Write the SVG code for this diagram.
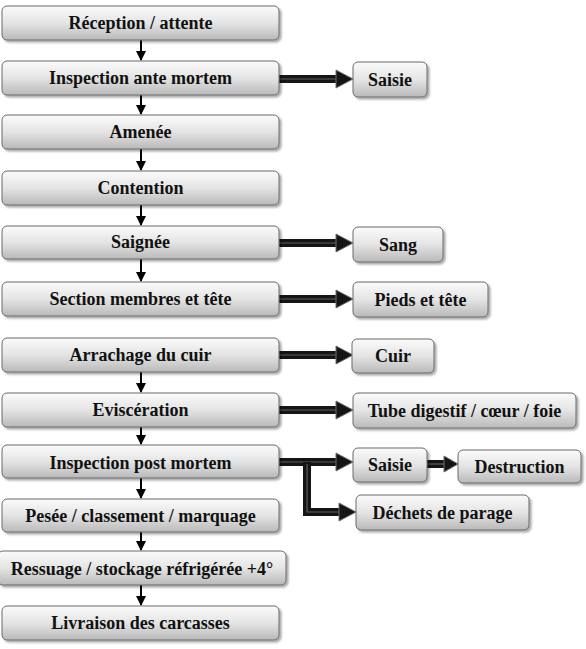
<svg xmlns="http://www.w3.org/2000/svg" width="586" height="649" viewBox="0 0 586 649">
<defs>
<linearGradient id="g" x1="0" y1="0" x2="0" y2="1">
<stop offset="0" stop-color="#fbfbfb"/>
<stop offset="0.5" stop-color="#e4e4e4"/>
<stop offset="1" stop-color="#b9b9b9"/>
</linearGradient>
<filter id="sh" x="-10%" y="-20%" width="120%" height="160%">
<feDropShadow dx="2" dy="2" stdDeviation="1.2" flood-color="#000" flood-opacity="0.35"/>
</filter>
<marker id="ah" markerWidth="10" markerHeight="10" refX="9" refY="5" orient="auto" markerUnits="userSpaceOnUse" viewBox="0 0 10 10">
<path d="M0,0 L10,5 L0,10 Z" fill="#000"/>
</marker>
</defs>
<style>
.b rect{fill:url(#g);stroke:#6a6a6a;stroke-width:1;filter:url(#sh)}
.b text{font-weight:bold;font-size:18px;fill:#111;text-anchor:middle}
.d{stroke:#000;stroke-width:2;fill:none}
.s{stroke:#151515;stroke-width:8;fill:none}
.si{stroke:#5e5e5e;stroke-width:1.2;fill:none}
.h{fill:#151515;stroke:#6e6e6e;stroke-width:1}
</style>
<g id="connectors">
<line class="d" x1="141" y1="40" x2="141" y2="60" marker-end="url(#ah)"/>
<line class="d" x1="141" y1="95" x2="141" y2="114" marker-end="url(#ah)"/>
<line class="d" x1="141" y1="149" x2="141" y2="170" marker-end="url(#ah)"/>
<line class="d" x1="141" y1="205" x2="141" y2="225" marker-end="url(#ah)"/>
<line class="d" x1="141" y1="259" x2="141" y2="281" marker-end="url(#ah)"/>
<line class="d" x1="141" y1="372" x2="141" y2="392" marker-end="url(#ah)"/>
<line class="d" x1="141" y1="427" x2="141" y2="444" marker-end="url(#ah)"/>
<line class="d" x1="141" y1="478" x2="141" y2="498" marker-end="url(#ah)"/>
<line class="d" x1="141" y1="532" x2="141" y2="550" marker-end="url(#ah)"/>
<line class="d" x1="141" y1="585" x2="141" y2="605" marker-end="url(#ah)"/>

<path class="s" d="M279,79 H338"/><path class="si" d="M279,79 H338"/><polygon class="h" points="336,70 353,79 336,88"/>
<path class="s" d="M279,243 H338"/><path class="si" d="M279,243 H338"/><polygon class="h" points="336,234 353,243 336,252"/>
<path class="s" d="M279,299 H338"/><path class="si" d="M279,299 H338"/><polygon class="h" points="336,290 353,299 336,308"/>
<path class="s" d="M279,355 H338"/><path class="si" d="M279,355 H338"/><polygon class="h" points="336,346 353,355 336,364"/>
<path class="s" d="M279,410 H338"/><path class="si" d="M279,410 H338"/><polygon class="h" points="336,401 353,410 336,419"/>
<path class="s" d="M279,462 H338"/><path class="si" d="M279,462 H338"/><polygon class="h" points="336,453 353,462 336,471"/>
<path class="s" d="M307,462 V512 H341"/><path class="si" d="M307,464 V512 H341"/><polygon class="h" points="339,503 356,512 339,521"/>
<path class="s" d="M427,464 H446"/><path class="si" d="M427,464 H446"/><polygon class="h" points="444,456 458,464 444,472"/>
</g>
<g font-family="'Liberation Serif', 'DejaVu Serif', serif">
<g id="n1" class="b"><rect x="2" y="6" width="277" height="34" rx="5"/><text x="140.5" y="29">Réception / attente</text></g>
<g id="n2" class="b"><rect x="2" y="61" width="277" height="34" rx="5"/><text x="140.5" y="84">Inspection ante mortem</text></g>
<g id="n3" class="b"><rect x="2" y="115" width="277" height="34" rx="5"/><text x="140.5" y="138">Amenée</text></g>
<g id="n4" class="b"><rect x="2" y="171" width="277" height="34" rx="5"/><text x="140.5" y="194">Contention</text></g>
<g id="n5" class="b"><rect x="2" y="226" width="277" height="33" rx="5"/><text x="140.5" y="248">Saignée</text></g>
<g id="n6" class="b"><rect x="2" y="282" width="277" height="34" rx="5"/><text x="140.5" y="305">Section membres et tête</text></g>
<g id="n7" class="b"><rect x="2" y="338" width="277" height="34" rx="5"/><text x="140.5" y="361">Arrachage du cuir</text></g>
<g id="n8" class="b"><rect x="2" y="393" width="277" height="34" rx="5"/><text x="140.5" y="416">Eviscération</text></g>
<g id="n9" class="b"><rect x="2" y="445" width="277" height="33" rx="5"/><text x="140.5" y="469">Inspection post mortem</text></g>
<g id="n10" class="b"><rect x="2" y="499" width="277" height="33" rx="5"/><text x="140.5" y="522">Pesée / classement / marquage</text></g>
<g id="n11" class="b"><rect x="-2" y="551" width="288" height="34" rx="5"/><text x="142" y="575">Ressuage / stockage réfrigérée +4°</text></g>
<g id="n12" class="b"><rect x="2" y="606" width="277" height="34" rx="5"/><text x="140.5" y="629">Livraison des carcasses</text></g>
<g id="r1" class="b"><rect x="353" y="62" width="74" height="35" rx="5"/><text x="390" y="86">Saisie</text></g>
<g id="r2" class="b"><rect x="353" y="227" width="90" height="35" rx="5"/><text x="398" y="251">Sang</text></g>
<g id="r3" class="b"><rect x="353" y="282" width="135" height="35" rx="5"/><text x="420.5" y="306">Pieds et tête</text></g>
<g id="r4" class="b"><rect x="352" y="339" width="82" height="34" rx="5"/><text x="393" y="362">Cuir</text></g>
<g id="r5" class="b"><rect x="353" y="393" width="223" height="35" rx="5"/><text x="464.5" y="417">Tube digestif / cœur / foie</text></g>
<g id="r6" class="b"><rect x="353" y="448" width="74" height="34" rx="5"/><text x="390" y="471">Saisie</text></g>
<g id="r7" class="b"><rect x="458" y="450" width="123" height="33" rx="5"/><text x="519.5" y="473">Destruction</text></g>
<g id="r8" class="b"><rect x="356" y="495" width="173" height="35" rx="5"/><text x="442.5" y="519">Déchets de parage</text></g>
</g>
</svg>
